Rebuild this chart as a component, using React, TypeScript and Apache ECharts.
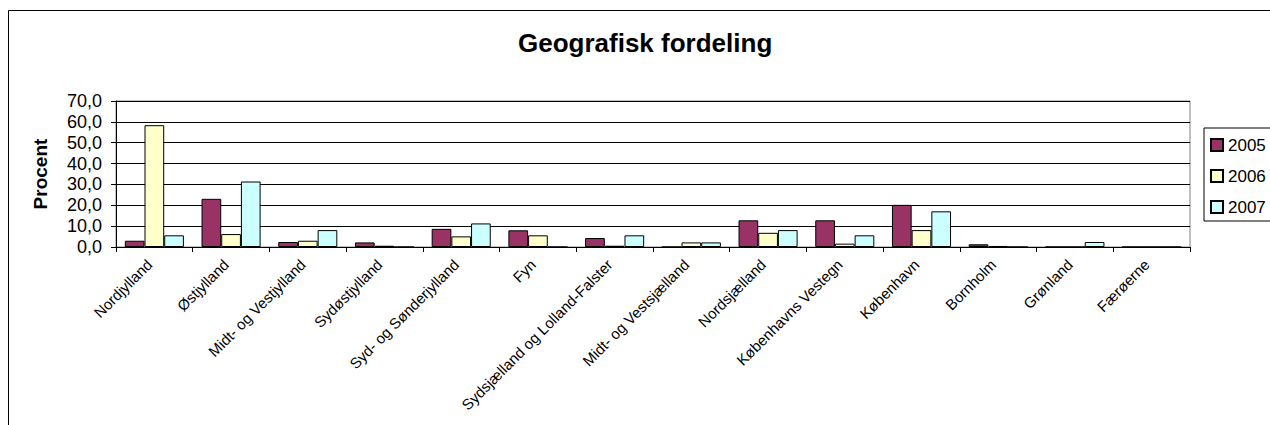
import React, { useEffect, useRef } from "react";
import * as echarts from "echarts";

const categories = [
  "Nordjylland",
  "Østjylland",
  "Midt- og Vestjylland",
  "Sydøstjylland",
  "Syd- og Sønderjylland",
  "Fyn",
  "Sydsjælland og Lolland-Falster",
  "Midt- og Vestsjælland",
  "Nordsjælland",
  "Københavns Vestegn",
  "København",
  "Bornholm",
  "Grønland",
  "Færøerne",
];
const values2005 = [3.0, 23.1, 2.4, 2.2, 8.7, 8.0, 4.3, 0, 12.8, 12.8, 20.2, 1.3, 0, 0];
const values2006 = [58.4, 6.2, 3.0, 0.6, 5.1, 5.6, 0.6, 2.2, 6.8, 1.6, 8.1, 0.5, 0, 0];
const values2007 = [5.6, 31.4, 8.1, 0, 11.3, 0, 5.6, 2.2, 8.1, 5.6, 17.1, 0, 2.4, 0];
const seriesNames = ["2005", "2006", "2007"];
const colors = ["#993366", "#FFFFCC", "#CCFFFF"];

const FONT = "'Liberation Sans', Arial, sans-serif";

export default function App() {
  const ref = useRef<HTMLDivElement>(null);
  useEffect(() => {
    document.body.style.margin = "0";
    document.body.style.overflow = "hidden";
    const chart = echarts.init(ref.current!, null, { renderer: "svg" });
    const data = [values2005, values2006, values2007];
    chart.setOption({
      animation: false,
      backgroundColor: "#ffffff",
      textStyle: { fontFamily: FONT },
      graphic: [
        {
          type: "rect",
          shape: { x: 8.5, y: 10.5, width: 1400, height: 600 },
          style: { fill: "none", stroke: "#000", lineWidth: 1 },
          silent: true,
        },
      ],
      title: {
        text: "Geografisk fordeling",
        left: 518,
        top: 30,
        padding: 0,
        textStyle: { fontFamily: FONT, fontSize: 26, fontWeight: "bold", color: "#000" },
      },
      legend: {
        orient: "vertical",
        left: 1204,
        top: 128,
        padding: [8, 6, 5, 6],
        itemWidth: 12,
        itemHeight: 12,
        itemGap: 13,
        borderColor: "#000",
        borderWidth: 1,
        icon: "rect",
        textStyle: { fontFamily: FONT, fontSize: 17, color: "#000", lineHeight: 18 },
        data: seriesNames,
      },
      grid: {
        left: 116,
        top: 101,
        right: 80,
        height: 146,
        show: true,
        borderColor: "#808080",
        borderWidth: 1,
      },
      xAxis: {
        type: "category",
        data: categories,
        axisLine: { lineStyle: { color: "#000", width: 1 } },
        axisTick: { show: true, length: 5, lineStyle: { color: "#000" } },
        axisLabel: {
          rotate: 45,
          interval: 0,
          margin: 10,
          padding: [0, 7, 0, 0],
          fontFamily: FONT,
          fontSize: 15,
          color: "#000",
        },
      },
      yAxis: {
        type: "value",
        min: 0,
        max: 70,
        interval: 10,
        name: "Procent",
        nameLocation: "middle",
        nameGap: 66,
        nameTextStyle: { fontFamily: FONT, fontSize: 19, fontWeight: "bold", color: "#000" },
        axisLine: { show: true, lineStyle: { color: "#000", width: 1 } },
        axisTick: { show: true, length: 5, lineStyle: { color: "#000" } },
        axisLabel: {
          fontFamily: FONT,
          fontSize: 18,
          color: "#000",
          margin: 14,
          formatter: (v: number) => v.toFixed(1).replace(".", ","),
        },
        splitLine: { show: true, lineStyle: { color: "#000", width: 1 } },
      },
      series: seriesNames.map((name, i) => ({
        name,
        type: "bar",
        data: data[i],
        barGap: "0%",
        barCategoryGap: "23%",
        itemStyle: { color: colors[i], borderColor: "#000", borderWidth: 1 },
      })),
    });
    return () => chart.dispose();
  }, []);
  return <div ref={ref} style={{ width: 1270, height: 425 }} />;
}
